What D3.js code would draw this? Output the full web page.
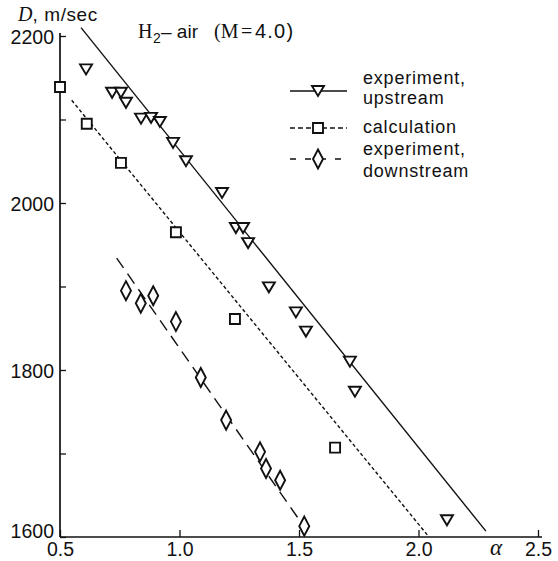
<!DOCTYPE html>
<html>
<head>
<meta charset="utf-8">
<script src="https://cdn.jsdelivr.net/npm/d3@7"></script>
<style>
  html, body { margin: 0; padding: 0; background: #fff; }
  svg { display: block; }
  text { fill: #111; }
</style>
</head>
<body>
<svg id="chart" width="558" height="561"></svg>
<script>
// Detonation velocity D versus alpha, H2-air at M = 4.0
const upAlpha = [0.609, 0.718, 0.755, 0.776, 0.839, 0.881, 0.918, 0.973, 1.027, 1.178,
                 1.236, 1.266, 1.287, 1.374, 1.487, 1.529, 1.713, 1.734, 2.119];
const upD     = [2160, 2132, 2132, 2120, 2101, 2102, 2097, 2072, 2050, 2012,
                 1970, 1970, 1952, 1899, 1869, 1846, 1810, 1774, 1620];

const calcAlpha = [0.5, 0.612, 0.755, 0.985, 1.232, 1.651];
const calcD     = [2139, 2095, 2048, 1965, 1861, 1707];

const downAlpha = [0.776, 0.838, 0.890, 0.985, 1.089, 1.195, 1.337, 1.362, 1.421, 1.522];
const downD     = [1895, 1880, 1889, 1858, 1791, 1740, 1702, 1682, 1668, 1613];

// straight-line fits drawn through each set
const upFitAlpha   = [0.588, 2.282];
const upFitD       = [2210, 1607];
const calcFitAlpha = [0.549, 2.044];
const calcFitD     = [2123, 1600];
const downFitAlpha = [0.737, 1.522];
const downFitD     = [1934, 1612];

const xTicks = [0.5, 1.0, 1.5, 2.0, 2.5];
const xTickLabels = ["0.5", "1.0", "1.5", "2.0", "2.5"];
const yTicks = [1600, 1700, 1800, 1900, 2000, 2100, 2200];
const yTickLabels = ["1600", "", "1800", "", "2000", "", "2200"];

const legendLabels = [["experiment,", "upstream"], ["calculation"], ["experiment,", "downstream"]];

const ink = "#111";
const sans = "Liberation Sans, Arial, sans-serif";
const serif = "Liberation Serif, Times New Roman, serif";
const svg = d3.select("#chart");

const x = d3.scaleLinear().domain([0.5, 2.5]).range([60, 538]);
const y = d3.scaleLinear().domain([1600, 2200]).range([537, 36]);

// axes: ticks point inward
const xAxis = d3.axisBottom(x).tickValues(xTicks).tickSizeInner(-7).tickSizeOuter(0)
  .tickFormat((d, i) => xTickLabels[i]);
const gx = svg.append("g").attr("transform", `translate(0,${y(1600)})`).call(xAxis);
gx.select(".domain").attr("stroke", ink).attr("stroke-width", 1.7)
  .attr("d", `M${x(0.5)},0H${x(2.5) + 4}`);
gx.selectAll(".tick line").attr("stroke", ink).attr("stroke-width", 1.3);
gx.selectAll(".tick text").attr("fill", ink).attr("font-family", sans)
  .attr("font-size", 19.5).attr("y", 19).attr("dy", "0");

const yAxis = d3.axisLeft(y).tickValues(yTicks).tickSizeInner(-6).tickSizeOuter(0)
  .tickFormat((d, i) => yTickLabels[i]);
const gy = svg.append("g").attr("transform", `translate(${x(0.5)},0)`).call(yAxis);
gy.select(".domain").attr("stroke", ink).attr("stroke-width", 1.7)
  .attr("d", `M0,${y(1600)}V${y(2200) - 3}`);
gy.selectAll(".tick line").attr("stroke", ink).attr("stroke-width", 1.3);
gy.selectAll(".tick text").attr("fill", ink).attr("font-family", sans)
  .attr("font-size", 19.5).attr("x", -6).attr("dy", "0.36em");
gy.selectAll(".tick").filter(d => d === 1600).select("text").attr("dy", "0.0em");

// fitted lines
const line = d3.line().x(d => x(d[0])).y(d => y(d[1]));
function fit(a, b) { return a.map((v, i) => [v, b[i]]); }

svg.append("path").datum(fit(upFitAlpha, upFitD)).attr("d", line)
  .attr("fill", "none").attr("stroke", ink).attr("stroke-width", 1.4);
svg.append("path").datum(fit(calcFitAlpha, calcFitD)).attr("d", line)
  .attr("fill", "none").attr("stroke", ink).attr("stroke-width", 1.4)
  .attr("stroke-dasharray", "3.5,2.5");
svg.append("path").datum(fit(downFitAlpha, downFitD)).attr("d", line)
  .attr("fill", "none").attr("stroke", ink).attr("stroke-width", 1.4)
  .attr("stroke-dasharray", "12,7");

// marker shapes
const triPath = "M-6,-5L6,-5L0,5Z";
const sqPath = "M-5,-5H5V5H-5Z";
const diaPath = "M0,-9.5L5,0L0,9.5L-5,0Z";

function markers(a, b, path) {
  svg.append("g").selectAll("path").data(fit(a, b)).join("path")
    .attr("d", path)
    .attr("transform", d => `translate(${x(d[0])},${y(d[1])})`)
    .attr("fill", "#fff").attr("stroke", ink).attr("stroke-width", 1.9)
    .attr("stroke-linejoin", "miter");
}
markers(calcAlpha, calcD, sqPath);
markers(downAlpha, downD, diaPath);
markers(upAlpha, upD, triPath);

// axis titles
const yTitle = svg.append("text").attr("x", 18).attr("y", 21).attr("font-size", 19);
yTitle.append("tspan").attr("font-family", serif).attr("font-style", "italic")
  .attr("font-size", 20).text("D");
yTitle.append("tspan").attr("font-family", sans).attr("font-size", 19)
  .attr("letter-spacing", 0.6).text(", m/sec");

svg.append("text").attr("x", 496).attr("y", 555).attr("text-anchor", "middle")
  .attr("font-family", serif).attr("font-style", "italic")
  .attr("font-size", 23).text("α");

// heading, laid out piece by piece
const tg = svg.append("g").attr("font-size", 19);
tg.append("text").attr("x", 138).attr("y", 38).attr("font-family", serif).attr("font-size", 20).text("H");
tg.append("text").attr("x", 153).attr("y", 43).attr("font-family", sans).attr("font-size", 14).text("2");
tg.append("text").attr("x", 161).attr("y", 38).attr("font-family", sans).text("– air");
tg.append("text").attr("x", 214).attr("y", 38).attr("font-family", serif).attr("font-size", 20).text("(M");
tg.append("text").attr("x", 241).attr("y", 38).attr("font-family", serif).attr("font-size", 20).text("=");
tg.append("text").attr("x", 255).attr("y", 38).attr("font-family", sans).attr("font-size", 20)
  .attr("letter-spacing", 1.2).text("4.0)");

// legend
const legendRows = [
  { y: 91, path: triPath, dash: null, text: [83.5, 104] },
  { y: 128, path: sqPath, dash: "5,3", text: [133] },
  { y: 159, path: diaPath, dash: "6,9", text: [155, 176.5] }
];
const lg = svg.append("g");
legendRows.forEach((r, i) => {
  lg.append("line").attr("x1", 290).attr("x2", 347).attr("y1", r.y).attr("y2", r.y)
    .attr("stroke", ink).attr("stroke-width", 1.4)
    .attr("stroke-dasharray", r.dash);
  lg.append("path").attr("d", r.path).attr("transform", `translate(318,${r.y})`)
    .attr("fill", "#fff").attr("stroke", ink).attr("stroke-width", 1.9);
  legendLabels[i].forEach((t, j) => {
    lg.append("text").attr("x", 363).attr("y", r.text[j])
      .attr("font-family", sans).attr("font-size", 18)
      .attr("letter-spacing", 0.8).text(t);
  });
});
</script>
</body>
</html>
